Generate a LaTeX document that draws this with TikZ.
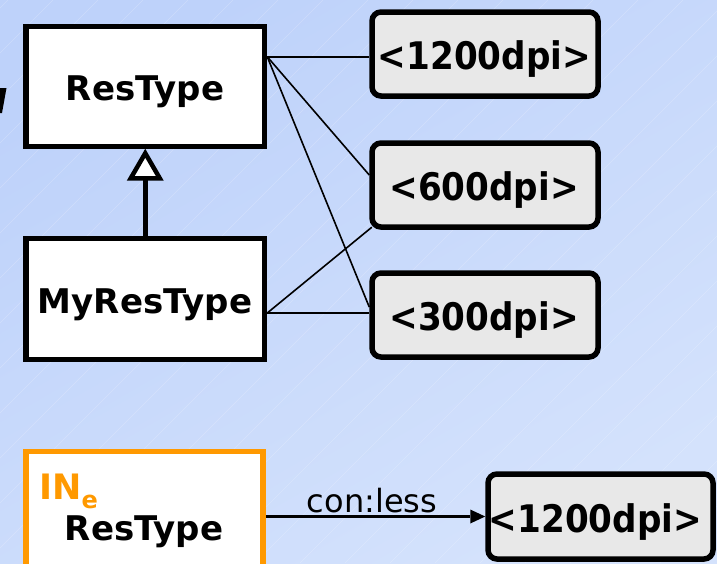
\documentclass[tikz,border=0pt]{standalone}
\usepackage{fontspec}
\setmainfont{DejaVu Sans}
\newfontfamily\condfont{DejaVu Sans Condensed}
\definecolor{bgdark}{HTML}{BED2FA}
\definecolor{bglight}{HTML}{D4E2FC}
\definecolor{boxgray}{HTML}{E8E8E8}
\definecolor{inorange}{HTML}{FF9900}
\tikzset{
  classbox/.style={draw=black, line width=5.5pt, fill=white, minimum width=238.5pt,
    minimum height=120pt, inner sep=0pt},
  valbox/.style={draw=black, line width=5.5pt, fill=boxgray, rounded corners=9pt,
    minimum width=226pt, minimum height=84pt, inner sep=0pt},
  classtext/.style={font=\bfseries\fontsize{34}{34}\selectfont, anchor=base, inner sep=0pt},
  valtext/.style={font=\condfont\bfseries\fontsize{38}{38}\selectfont, anchor=base, inner sep=0pt},
  link/.style={line width=1.6pt},
}
\begin{document}
\begin{tikzpicture}[x=1pt,y=-1pt]
  \useasboundingbox (0,0) rectangle (717,563);
  \clip (0,0) rectangle (717,563);
  % background with faint diagonal hatching
  \shade[top color=bgdark, bottom color=bglight, shading angle=30] (0,0) rectangle (717,563);
  \foreach \i in {-600,-555,...,720}
    \draw[white, opacity=0.22, line width=0.6pt] (\i,563) -- (\i+563,0);
  % glyph fragment at the left edge
  \fill (0,88) -- (6.5,88) -- (2,113) -- (0,113) -- cycle;

  % class boxes
  \node[classbox] (rt) at (145.25,86.5) {};
  \node[classbox, minimum height=121pt] (mrt) at (145.25,299) {};
  % value boxes
  \node[valbox] (v1) at (485,54) {};
  \node[valbox] (v2) at (485,185) {};
  \node[valbox] (v3) at (485,315) {};
  \node[valbox, minimum width=225pt, minimum height=85pt] (v4) at (600.5,516.5) {};
  % constrained class box
  \node[classbox, draw=inorange, minimum width=237pt, minimum height=200pt] (ob) at (144.5,551.5) {};

  % links between classes and values
  \coordinate (rtp) at ([yshift=-33pt]rt.north east);
  \coordinate (mrtp) at ([yshift=-14pt]mrt.east);
  \draw[link] (rtp) -- (rtp -| v1.west);
  \draw[link] (rtp) -- ([yshift=10pt]v2.west);
  \draw[link] (rtp) -- ([yshift=8pt]v3.west);
  \draw[link] (mrtp) -- (mrtp -| v3.west);
  \draw[link] (mrtp) -- ([shift={(2.5pt,2.5pt)}]v2.south west);

  % generalisation: shaft and hollow triangle head
  \coordinate (gtip) at ([yshift=-4pt]rt.south);
  \coordinate (gbase) at ([yshift=-25pt]gtip);
  \draw[line width=5pt] (mrt.north) -- (gbase);
  \draw[line width=4.5pt, fill=white, line join=miter]
    (gtip) -- ([xshift=14.5pt]gbase) -- ([xshift=-14.5pt]gbase) -- cycle;

  % constraint arrow with filled head
  \coordinate (cstart) at (ob.east |- v4.west);
  \coordinate (ctip) at (v4.west);
  \coordinate (cbase) at ([xshift=-15pt]ctip);
  \draw[line width=3pt] (cstart) -- (cbase)
    node[pos=0.5, anchor=base, yshift=4pt, xshift=4pt, inner sep=0pt,
      font=\fontsize{32}{32}\selectfont] (lbl) {con:less};
  \fill (ctip) -- ([yshift=7pt]cbase) -- ([yshift=-7pt]cbase) -- cycle;

  % texts
  \node[classtext] (rtl) at (145,100) {ResType};
  \node[classtext] (mrtl) at (145,313) {MyResType};
  \node[valtext] (v1l) at (484.5,69) {<1200dpi>};
  \node[valtext] (v2l) at (484,200) {<600dpi>};
  \node[valtext] (v3l) at (484,330) {<300dpi>};
  \node[valtext] (v4l) at (595.5,532) {<1200dpi>};
  \node[anchor=base west, inner sep=0pt, text=inorange, font=\bfseries\fontsize{35}{35}\selectfont]
    (inl) at (39,499) {IN\raisebox{-9pt}{\fontsize{24}{24}\selectfont e}};
  \node[classtext] (inrt) at (144,540) {ResType};
\end{tikzpicture}
\end{document}
